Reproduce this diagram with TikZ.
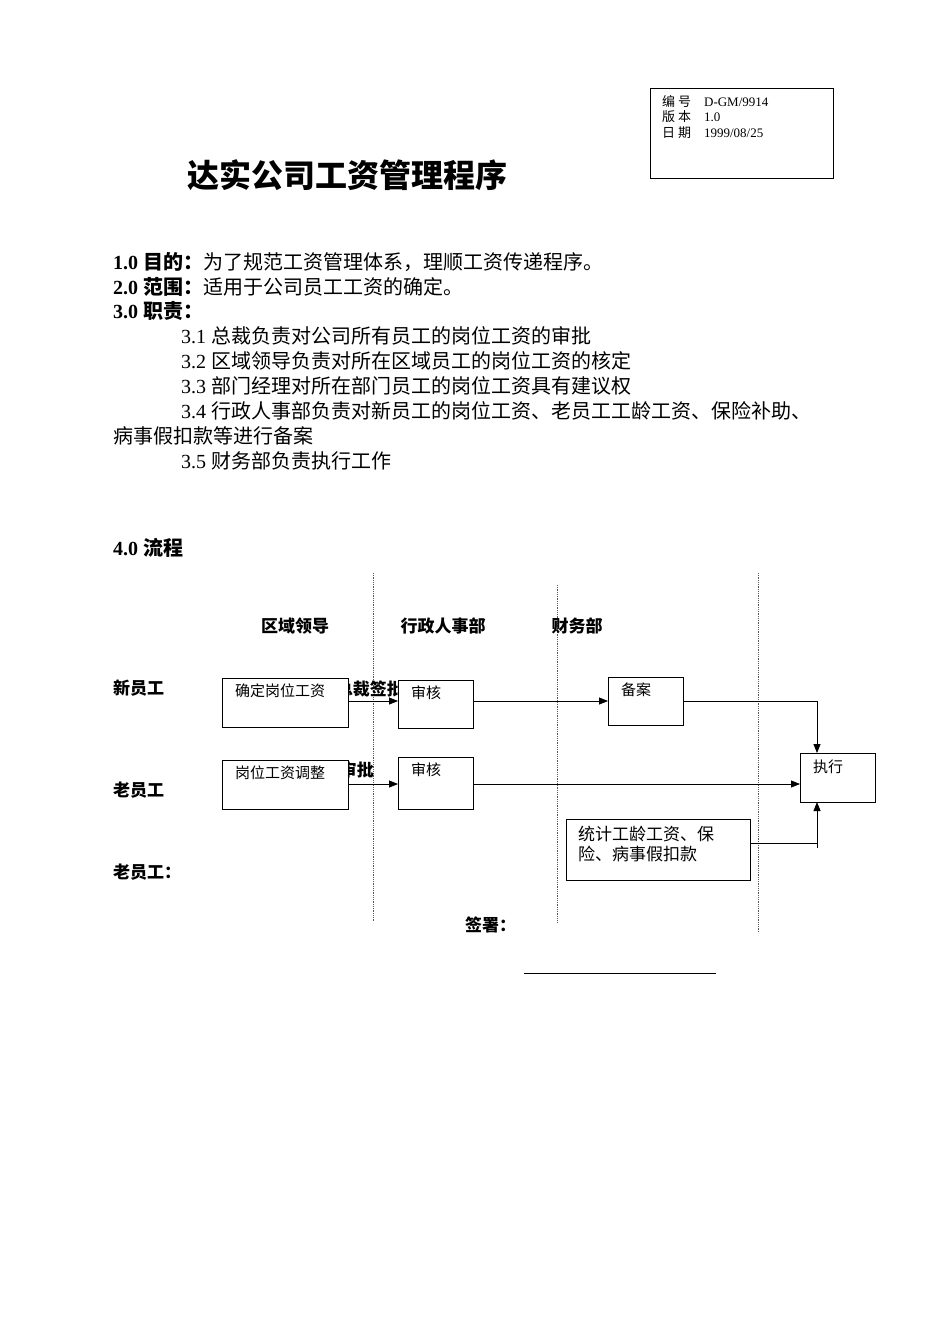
\documentclass[tikz,border=0pt]{standalone}
\usepackage{fontspec}
\setmainfont{Liberation Serif}
\newfontfamily\cjk{Noto Sans CJK SC}
\usetikzlibrary{arrows.meta}

\begin{document}
\begin{tikzpicture}[x=1pt,y=-1pt,inner sep=0pt]
	\tikzstyle{box}=[rectangle,draw,thick,fill=white,anchor=north west]
	\tikzstyle{boxtext}=[anchor=north west,font=\cjk\fontsize{15}{15}\selectfont]
	\tikzstyle{body}=[anchor=west,font=\fontsize{20}{20}\selectfont]
	\tikzstyle{lane}=[anchor=center,font=\cjk\bfseries\fontsize{17}{17}\selectfont]
	\tikzstyle{divider}=[densely dotted,thick,gray!70!black]
	\tikzstyle{flow}=[thick,-{Triangle[length=9pt,width=7pt]}]
	\useasboundingbox (0,0) rectangle (950,1344);
	% header
	\node (info) at (650,88) [box,minimum width=183pt,minimum height=90pt,thin] {};
	\node (infotxt) at (662,95) [anchor=north west,align=left,font=\fontsize{13}{15.5}\selectfont]
		{{\cjk 编 号}\quad D-GM/9914\\{\cjk 版 本}\quad 1.0\\{\cjk 日 期}\quad 1999/08/25};
	\node (title) at (347,175) [font=\cjk\bfseries\fontsize{32}{32}\selectfont] {达实公司工资管理程序};
	% text
	\node (l1) at (113,262) [body] {\textbf{1.0 {\cjk 目的：}}{\cjk 为了规范工资管理体系，理顺工资传递程序。}};
	\node (l2) at (113,287) [body] {\textbf{2.0 {\cjk 范围：}}{\cjk 适用于公司员工工资的确定。}};
	\node (l3) at (113,311) [body] {\textbf{3.0 {\cjk 职责：}}};
	\node (l4) at (181,336) [body] {3.1 {\cjk 总裁负责对公司所有员工的岗位工资的审批}};
	\node (l5) at (181,361) [body] {3.2 {\cjk 区域领导负责对所在区域员工的岗位工资的核定}};
	\node (l6) at (181,386) [body] {3.3 {\cjk 部门经理对所在部门员工的岗位工资具有建议权}};
	\node (l7) at (181,411) [body] {3.4 {\cjk 行政人事部负责对新员工的岗位工资、老员工工龄工资、保险补助、}};
	\node (l8) at (113,436) [body] {\cjk 病事假扣款等进行备案};
	\node (l9) at (181,461) [body] {3.5 {\cjk 财务部负责执行工作}};
	\node (l10) at (113,548) [body] {\textbf{4.0 {\cjk 流程}}};
	% chart
	\draw [divider] (373,573) -- (373,922);
	\draw [divider] (557,585) -- (557,922);
	\draw [divider] (758,573) -- (758,933);
	\node (h1) at (295,626) [lane] {区域领导};
	\node (h2) at (443,626) [lane] {行政人事部};
	\node (h3) at (577,626) [lane] {财务部};
	\node (r1) at (113,688) [lane,anchor=west] {新员工};
	\node (r2) at (113,790) [lane,anchor=west] {老员工};
	\node (r3) at (113,872) [lane,anchor=west] {老员工：};
	\node (sign1) at (404,689) [lane,anchor=east] {总裁签批};
	\node (sign2) at (374,770) [lane,anchor=east] {审批};
	\node (a1) at (222,678) [box,minimum width=126pt,minimum height=49pt] {};
	\node (b1) at (398,680) [box,minimum width=75pt,minimum height=48pt] {};
	\node (c1) at (608,677) [box,minimum width=75pt,minimum height=48pt] {};
	\node (d)  at (800,753) [box,minimum width=75pt,minimum height=49pt] {};
	\node (a2) at (222,760) [box,minimum width=126pt,minimum height=49pt] {};
	\node (b2) at (398,757) [box,minimum width=75pt,minimum height=52pt] {};
	\node (e)  at (566,819) [box,minimum width=184pt,minimum height=61pt] {};
	\node (ta1) at (235,684) [boxtext] {确定岗位工资};
	\node (tb1) at (411,686) [boxtext] {审核};
	\node (tc1) at (621,683) [boxtext] {备案};
	\node (td)  at (813,760) [boxtext] {执行};
	\node (ta2) at (235,766) [boxtext] {岗位工资调整};
	\node (tb2) at (411,763) [boxtext] {审核};
	\node (te)  at (578,826) [boxtext,align=left,font=\cjk\fontsize{17}{20}\selectfont] {统计工龄工资、保\\险、病事假扣款};
	\draw [flow] (a1.east |- 0,701) -- (b1.west |- 0,701);
	\draw [flow] (b1.east |- 0,701) -- (c1.west |- 0,701);
	\draw [flow] (c1.east |- 0,701) -| (817,753);
	\draw [flow] (a2.east |- 0,784) -- (b2.west |- 0,784);
	\draw [flow] (b2.east |- 0,784) -- (d.west |- 0,784);
	\draw [flow] (e.east |- 0,843) -| (817,802);
	\draw [thick] (817,843) -- (817,848);
	\node (sig) at (465,925) [lane,anchor=west] {签署：};
	\draw [thin] (524,973) -- (716,973);
\end{tikzpicture}
\end{document}
